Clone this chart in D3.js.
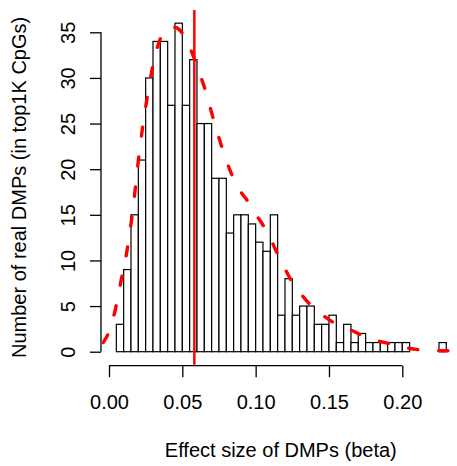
<!DOCTYPE html>
<html>
<head>
<meta charset="utf-8">
<script src="https://cdn.jsdelivr.net/npm/d3@7"></script>
<style>
  html, body { margin: 0; padding: 0; background: #fff; }
  svg { display: block; }
  text { font-family: "Liberation Sans", Arial, Helvetica, sans-serif; fill: #000; }
</style>
</head>
<body>
<svg id="chart" width="457" height="466"></svg>
<script>
// Histogram bins: left edge of each bin (width 0.005) and its count
const binStarts = [0.005, 0.010, 0.015, 0.020, 0.025, 0.030, 0.035, 0.040, 0.045, 0.050,
                   0.055, 0.060, 0.065, 0.070, 0.075, 0.080, 0.085, 0.090, 0.095, 0.100,
                   0.105, 0.110, 0.115, 0.120, 0.125, 0.130, 0.135, 0.140, 0.145, 0.150,
                   0.155, 0.160, 0.165, 0.170, 0.175, 0.180, 0.185, 0.190, 0.195, 0.200,
                   0.205, 0.210, 0.215, 0.220, 0.225];
const binWidth = 0.005;
const counts = [3, 9, 15, 21, 30, 34, 34, 27, 36, 27,
                32, 25, 25, 19, 19, 13, 15, 15, 14, 12,
                11, 15, 4, 8, 4, 5, 5, 3, 3, 4,
                1, 3, 1, 2, 1, 1, 1, 1, 1, 1,
                0, 0, 0, 0, 1];

// Smoothed density, scaled to counts
const densityX = [-0.004, 0.000, 0.004, 0.008, 0.012, 0.016, 0.020, 0.023, 0.026, 0.029,
                  0.032, 0.035, 0.038, 0.042, 0.046, 0.050, 0.054, 0.058, 0.062, 0.066,
                  0.071, 0.077, 0.084, 0.090, 0.095, 0.100, 0.106, 0.110, 0.115, 0.120,
                  0.125, 0.131, 0.137, 0.145, 0.153, 0.160, 0.166, 0.172, 0.180, 0.192,
                  0.202, 0.212, 0.222, 0.233, 0.240];
const densityY = [1.0, 2.2, 4.4, 7.6, 10.8, 15.2, 20.9, 24.7, 27.8, 30.6,
                  32.8, 34.3, 35.2, 35.6, 35.5, 34.9, 33.7, 32.2, 30.4, 28.5,
                  25.6, 22.4, 19.3, 17.5, 16.4, 15.1, 13.6, 12.4, 10.7, 9.1,
                  7.6, 6.3, 5.2, 4.1, 3.2, 2.7, 2.3, 1.85, 1.35, 0.85,
                  0.45, 0.2, 0.12, 0.1, 0.07];

// Mean effect size marker
const meanEffect = 0.0582;

const xTicks = [0.00, 0.05, 0.10, 0.15, 0.20];
const yTicks = [0, 5, 10, 15, 20, 25, 30, 35];

const svg = d3.select("#chart");

const x = d3.scaleLinear().domain([0, 0.2]).range([109, 402.3]);
const y = d3.scaleLinear().domain([0, 35]).range([351.7, 32.3]);

// plot region (for clipping the overlays)
const plotLeft = x(-0.0047), plotRight = 457, plotTop = y(37.44), plotBottom = y(-1.44);

svg.append("defs").append("clipPath").attr("id", "plotClip")
  .append("rect")
  .attr("x", plotLeft).attr("y", plotTop)
  .attr("width", plotRight - plotLeft).attr("height", plotBottom - plotTop);

// bars
svg.append("g")
  .selectAll("rect")
  .data(counts.map((c, i) => ({ x0: binStarts[i], n: c })).filter(d => d.n > 0))
  .join("rect")
  .attr("x", d => x(d.x0))
  .attr("y", d => y(d.n))
  .attr("width", d => x(d.x0 + binWidth) - x(d.x0))
  .attr("height", d => y(0) - y(d.n))
  .attr("fill", "#fff")
  .attr("stroke", "#000")
  .attr("stroke-width", 1.2);

// density curve
const line = d3.line()
  .x(d => x(d[0]))
  .y(d => y(d[1]))
  .curve(d3.curveMonotoneX);

svg.append("path")
  .attr("clip-path", "url(#plotClip)")
  .attr("d", line(densityX.map((v, i) => [v, densityY[i]])))
  .attr("fill", "none")
  .attr("stroke", "#ff0000")
  .attr("stroke-width", 3.4)
  .attr("stroke-linecap", "round")
  .attr("stroke-dasharray", "9.2,20.9");

// mean line
svg.append("line")
  .attr("x1", x(meanEffect)).attr("x2", x(meanEffect))
  .attr("y1", plotTop).attr("y2", plotBottom)
  .attr("stroke", "#ff0000")
  .attr("stroke-width", 2.5);

// x axis
const xAxisY = plotBottom + 0.8;
const xAxis = d3.axisBottom(x)
  .tickValues(xTicks)
  .tickFormat(d3.format(".2f"))
  .tickSize(11.5)
  .tickSizeOuter(0)
  .tickPadding(0);

const gx = svg.append("g").attr("transform", `translate(0,${xAxisY})`).call(xAxis);
gx.select(".domain").attr("stroke-width", 1.3).attr("d", `M${x(0)},0H${x(0.2)}`);
gx.selectAll(".tick line").attr("stroke-width", 1.3);
gx.selectAll(".tick text")
  .attr("font-size", 20)
  .attr("font-family", "Liberation Sans, Arial, sans-serif")
  .attr("dy", null)
  .attr("y", 409.5 - xAxisY);

// y axis
const yAxisX = 101;
const yAxis = d3.axisLeft(y)
  .tickValues(yTicks)
  .tickFormat(d3.format("d"))
  .tickSize(11)
  .tickSizeOuter(0);

const gy = svg.append("g").attr("transform", `translate(${yAxisX},0)`).call(yAxis);
gy.select(".domain").attr("stroke-width", 1.3).attr("d", `M0,${y(0)}V${y(35)}`);
gy.selectAll(".tick line").attr("stroke-width", 1.3);
gy.selectAll(".tick text")
  .attr("font-size", 20)
  .attr("font-family", "Liberation Sans, Arial, sans-serif")
  .attr("x", null).attr("dy", null)
  .attr("text-anchor", "middle")
  .attr("transform", `translate(${74.5 - yAxisX},0) rotate(-90)`);

// axis titles
svg.append("text")
  .attr("x", (plotLeft + 459.5) / 2)
  .attr("y", 457)
  .attr("text-anchor", "middle")
  .attr("font-size", 20)
  .text("Effect size of DMPs (beta)");

svg.append("text")
  .attr("transform", `translate(26,${(plotTop + plotBottom) / 2}) rotate(-90)`)
  .attr("text-anchor", "middle")
  .attr("font-size", 20)
  .text("Number of real DMPs (in top1K CpGs)");
</script>
</body>
</html>
